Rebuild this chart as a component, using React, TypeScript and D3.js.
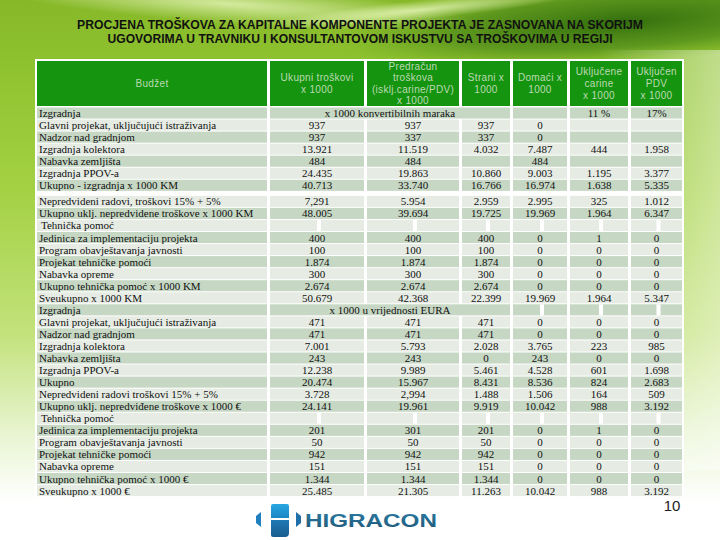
import * as d3 from "d3";

// --- data ---
const titleLines = [
  "PROCJENA TROŠKOVA ZA KAPITALNE KOMPONENTE PROJEKTA JE ZASNOVANA NA SKORIJM",
  "UGOVORIMA U TRAVNIKU I KONSULTANTOVOM ISKUSTVU SA TROŠKOVIMA U REGIJI",
];

const headers = [
  ["Budžet"],
  ["Ukupni troškovi", "x 1000"],
  ["Predračun", "troškova", "(isklj.carine/PDV)", "x 1000"],
  ["Strani x", "1000"],
  ["Domaći x", "1000"],
  ["Uključene", "carine", "x 1000"],
  ["Uključen", "PDV", "x 1000"],
];

const labels = [
  "Izgradnja",
  "Glavni projekat, uključujući istraživanja",
  "Nadzor nad gradnjom",
  "Izgradnja kolektora",
  "Nabavka zemljišta",
  "Izgradnja PPOV-a",
  "Ukupno - izgradnja x 1000 KM",
  "Nepredvideni radovi, troškovi 15% + 5%",
  "Ukupno uklj. nepredvidene troškove x 1000 KM",
  "Tehnička pomoć",
  "Jedinica za implementaciju projekta",
  "Program obavještavanja javnosti",
  "Projekat tehničke pomoći",
  "Nabavka opreme",
  "Ukupno tehnička pomoć x 1000 KM",
  "Sveukupno x 1000 KM",
  "Izgradnja",
  "Glavni projekat, uključujući istraživanja",
  "Nadzor nad gradnjom",
  "Izgradnja kolektora",
  "Nabavka zemljišta",
  "Izgradnja PPOV-a",
  "Ukupno",
  "Nepredvideni radovi troškovi 15% + 5%",
  "Ukupno uklj. nepredviđene troškove x 1000 €",
  "Tehnička pomoć",
  "Jedinica za implementaciju projekta",
  "Program obavještavanja javnosti",
  "Projekat tehničke pomoći",
  "Nabavka opreme",
  "Ukupno tehnička pomoć x 1000 €",
  "Sveukupno x 1000 €",
];

const ukupni = ["", "937", "937", "13.921", "484", "24.435", "40.713", "7,291", "48.005", "", "400", "100", "1.874", "300", "2.674", "50.679",
  "", "471", "471", "7.001", "243", "12.238", "20.474", "3.728", "24.141", "", "201", "50", "942", "151", "1.344", "25.485"];
const predracun = ["", "937", "337", "11.519", "484", "19.863", "33.740", "5.954", "39.694", "", "400", "100", "1.874", "300", "2.674", "42.368",
  "", "471", "471", "5.793", "243", "9.989", "15.967", "2,994", "19.961", "", "301", "50", "942", "151", "1.344", "21.305"];
const strani = ["", "937", "337", "4.032", "", "10.860", "16.766", "2.959", "19.725", "", "400", "100", "1.874", "300", "2.674", "22.399",
  "", "471", "471", "2.028", "0", "5.461", "8.431", "1.488", "9.919", "", "201", "50", "942", "151", "1.344", "11.263"];
const domaci = ["", "0", "0", "7.487", "484", "9.003", "16.974", "2.995", "19.969", "", "0", "0", "0", "0", "0", "19.969",
  "", "0", "0", "3.765", "243", "4.528", "8.536", "1.506", "10.042", "", "0", "0", "0", "0", "0", "10.042"];
const carine = ["11 %", "", "", "444", "", "1.195", "1.638", "325", "1.964", "", "1", "0", "0", "0", "0", "1.964",
  "", "0", "0", "223", "0", "601", "824", "164", "988", "", "1", "0", "0", "0", "0", "988"];
const pdv = ["17%", "", "", "1.958", "", "3.377", "5.335", "1.012", "6.347", "", "0", "0", "0", "0", "0", "5.347",
  "", "0", "0", "985", "0", "1.698", "2.683", "509", "3.192", "", "0", "0", "0", "0", "0", "3.192"];

const spanTexts = [
  { row: 0, text: "x 1000 konvertibilnih maraka" },
  { row: 16, text: "x 1000 u vrijednosti EURA" },
];
const sectionRows = [9, 25]; // "Tehnička pomoć"
const columns = [ukupni, predracun, strani, domaci, carine, pdv];

// --- layout ---
const W = 720;
const H = 540;
const colWidths = [230, 94, 92, 48, 54, 58, 51];
const GAP = 3;
const X0 = 37;
const colX = colWidths.map((_, i) => X0 + d3.sum(colWidths.slice(0, i)) + i * GAP);
const colMid = colWidths.map((w, i) => colX[i] + w / 2);

const HEAD_TOP = 61;
const HEAD_BOT = 106;
const BODY_TOP = 107;
const ROW_H = 12.05;
const SPACER = 4;
const nRows = labels.length;
const yScale = d3.scaleLinear().domain([0, nRows]).range([BODY_TOP, BODY_TOP + nRows * ROW_H]);
const rowTop = (i: number) => yScale(i) + (i >= 7 ? SPACER : 0);

const DARK = "#c6d7c4";
const LIGHT = "#e6ece4";
const serif = "'Liberation Serif', 'Times New Roman', serif";
const sans = "'Liberation Sans', Arial, sans-serif";

export default function App() {
  const tableBottom = rowTop(nRows) + 1;
  const headMid = (HEAD_TOP + HEAD_BOT) / 2;

  return (
    <svg width={W} height={H} style={{ position: "absolute", left: 0, top: 0, display: "block" }}>
      <defs>
        <linearGradient id="bg" x1="0" y1="0" x2="0" y2="1">
          <stop offset="0" stopColor="#86b828" />
          <stop offset="0.12" stopColor="#8fc22f" />
          <stop offset="0.35" stopColor="#a3d143" />
          <stop offset="0.62" stopColor="#c3e27c" />
          <stop offset="0.82" stopColor="#ebf6d8" />
          <stop offset="0.93" stopColor="#ffffff" />
        </linearGradient>
        <radialGradient id="swoosh" cx="0.5" cy="0.5" r="0.5">
          <stop offset="0" stopColor="#2e6a0c" stopOpacity="0.95" />
          <stop offset="0.6" stopColor="#3f7e14" stopOpacity="0.6" />
          <stop offset="1" stopColor="#5a9a1e" stopOpacity="0" />
        </radialGradient>
        <radialGradient id="streak" cx="0.5" cy="0.5" r="0.5">
          <stop offset="0" stopColor="#f4ffd0" stopOpacity="0.7" />
          <stop offset="1" stopColor="#f4ffd0" stopOpacity="0" />
        </radialGradient>
        <linearGradient id="rightLight" x1="0" y1="0" x2="1" y2="0">
          <stop offset="0" stopColor="#ffffff" stopOpacity="0" />
          <stop offset="1" stopColor="#ffffff" stopOpacity="0.45" />
        </linearGradient>
        <linearGradient id="logoTop" x1="0" y1="0" x2="0" y2="1">
          <stop offset="0" stopColor="#27a7e0" />
          <stop offset="1" stopColor="#1b86c4" />
        </linearGradient>
        <linearGradient id="logoBot" x1="0" y1="0" x2="0" y2="1">
          <stop offset="0" stopColor="#2079b4" />
          <stop offset="1" stopColor="#175c8e" />
        </linearGradient>
        <linearGradient id="logoText" x1="0" y1="0" x2="0" y2="1">
          <stop offset="0" stopColor="#2d7ea6" />
          <stop offset="1" stopColor="#1e5777" />
        </linearGradient>
      </defs>

      {/* background */}
      <rect x={0} y={0} width={W} height={H} fill="url(#bg)" />
      <ellipse cx={620} cy={22} rx={280} ry={42} fill="url(#swoosh)" transform="rotate(-4 620 22)" />
      <ellipse cx={230} cy={4} rx={240} ry={20} fill="url(#streak)" transform="rotate(4 230 4)" />
      <ellipse cx={420} cy={10} rx={160} ry={10} fill="url(#streak)" transform="rotate(-6 420 10)" />
      <rect x={600} y={50} width={120} height={420} fill="url(#rightLight)" />

      {/* title */}
      {titleLines.map((t, i) => (
        <text
          key={i}
          x={W / 2}
          y={[25, 39][i]}
          textAnchor="middle"
          dominantBaseline="central"
          fontFamily={sans}
          fontWeight="bold"
          fontSize={12.5}
          fill="#111"
          textLength={[566, 505][i]}
          lengthAdjust="spacingAndGlyphs"
        >
          {t}
        </text>
      ))}

      {/* table frame */}
      <rect x={35} y={HEAD_TOP - 2} width={649} height={tableBottom - HEAD_TOP + 3} fill="#ffffff" />

      {/* header */}
      {headers.map((lines, c) => (
        <g key={`h${c}`}>
          <rect x={colX[c]} y={HEAD_TOP} width={colWidths[c]} height={HEAD_BOT - HEAD_TOP} fill="#14940f" />
          {lines.map((ln, k) => (
            <text
              key={k}
              x={colMid[c]}
              y={headMid + (k - (lines.length - 1) / 2) * 11.6}
              textAnchor="middle"
              dominantBaseline="central"
              fontFamily={sans}
              fontSize={10}
              letterSpacing={0.3}
              fill="#bcd9b2"
            >
              {ln}
            </text>
          ))}
        </g>
      ))}

      {/* body */}
      {labels.map((label, r) => {
        const y = rowTop(r);
        const fill = r % 2 === 0 ? DARK : LIGHT;
        const span = spanTexts.find((s) => s.row === r);
        const isSection = sectionRows.includes(r);
        const cy = y + ROW_H / 2;
        return (
          <g key={`r${r}`}>
            <rect x={colX[0]} y={y + 0.5} width={colWidths[0]} height={ROW_H - 1} fill={fill} />
            {span ? (
              <rect
                x={colX[1]}
                y={y + 0.5}
                width={colX[3] + colWidths[3] - colX[1]}
                height={ROW_H - 1}
                fill={fill}
              />
            ) : null}
            {columns.map((_, c) =>
              span && c < 3 ? null : (
                <rect
                  key={c}
                  x={colX[c + 1]}
                  y={y + 0.5}
                  width={colWidths[c + 1]}
                  height={ROW_H - 1}
                  fill={fill}
                />
              )
            )}
            {/* white notches in empty merged cells */}
            {columns.map((_, c) =>
              isSection || (r === 16 && c >= 3) ? (
                <rect key={`n${c}`} x={colMid[c + 1]} y={y + 0.5} width={4} height={ROW_H - 1} fill="#ffffff" />
              ) : null
            )}
            <text
              x={isSection ? 41 : 39}
              y={cy}
              dominantBaseline="central"
              fontFamily={serif}
              fontSize={11}
              fill="#111"
            >
              {label}
            </text>
            {span ? (
              <text
                x={(colX[1] + colX[3] + colWidths[3]) / 2}
                y={cy}
                textAnchor="middle"
                dominantBaseline="central"
                fontFamily={serif}
                fontSize={11}
                fill="#111"
              >
                {span.text}
              </text>
            ) : null}
            {columns.map((col, c) =>
              col[r] ? (
                <text
                  key={`t${c}`}
                  x={colMid[c + 1]}
                  y={cy}
                  textAnchor="middle"
                  dominantBaseline="central"
                  fontFamily={serif}
                  fontSize={11}
                  fill="#111"
                >
                  {col[r]}
                </text>
              ) : null
            )}
          </g>
        );
      })}

      {/* page number */}
      <text x={672} y={505} textAnchor="middle" dominantBaseline="central" fontFamily={sans} fontSize={15} fill="#222">
        10
      </text>

      {/* logo */}
      <g>
        <path d="M261,512 L256,516 L256,523 L261,527 Z" fill="#1f7fbf" />
        <path d="M271,506 Q271,504 273,504 L287,504 Q289,504 289,506 L289,518 L271,518 Z" fill="url(#logoTop)" />
        <path d="M271,520 L289,520 L289,533 Q289,537 285,537 L273,537 Q271,537 271,535 Z" fill="url(#logoBot)" />
        <path d="M296,512 L301,516 L301,523 L296,527 Z" fill="#1f6fa8" />
        <text
          x={305}
          y={520}
          dominantBaseline="central"
          fontFamily={sans}
          fontWeight="bold"
          fontSize={19}
          fill="url(#logoText)"
          textLength={132}
          lengthAdjust="spacingAndGlyphs"
        >
          HIGRACON
        </text>
      </g>
    </svg>
  );
}
